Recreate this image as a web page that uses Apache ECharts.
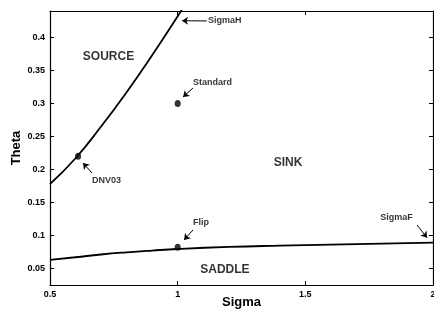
<!DOCTYPE html>
<html>
<head>
<meta charset="utf-8">
<script src="https://cdn.jsdelivr.net/npm/echarts@6/dist/echarts.min.js"></script>
<style>
  html, body { margin: 0; padding: 0; background: #fff; }
  #main { width: 434px; height: 314px; }
</style>
</head>
<body>
<div id="main"></div>
<script>
// boundary curves: [sigma, theta]
var sigmaHCurve = [[0.5, 0.178], [0.6, 0.217], [0.7, 0.265], [0.8, 0.317], [0.9, 0.373],
  [1.0, 0.432], [1.05, 0.463]];
var sigmaFCurve = [[0.5, 0.063], [0.6, 0.067], [0.7, 0.0712], [0.8, 0.0745], [0.9, 0.0772],
  [1.0, 0.0795], [1.2, 0.0826], [1.4, 0.0846], [1.6, 0.0862], [1.8, 0.0878], [2.0, 0.0893]];

// parameter points
var pointNames = ['Standard', 'DNV03', 'Flip'];
var pointValues = [[1.0, 0.30], [0.61, 0.22], [1.0, 0.082]];

// annotation labels (left edge of text) and arrows tail -> head
var noteNames = ['SigmaH', 'Standard', 'DNV03', 'Flip', 'SigmaF'];
var notePos = [[1.119, 0.425], [1.060, 0.331], [0.6645, 0.184], [1.060, 0.1189], [1.793, 0.1265]];
var arrowTails = [[1.114, 0.4249], [1.060, 0.3234], [0.6645, 0.1946], [1.060, 0.1083], [1.9375, 0.1159]];
var arrowHeads = [[1.017, 0.4253], [1.021, 0.3097], [0.6293, 0.2098], [1.025, 0.0932], [1.9766, 0.0966]];

// region names (centre of text)
var regionNames = ['SOURCE', 'SINK', 'SADDLE'];
var regionPos = [[0.729, 0.3703], [1.432, 0.2098], [1.185, 0.0477]];

var xTicks = [0.5, 1, 1.5, 2];
var yTicks = [0.05, 0.1, 0.15, 0.2, 0.25, 0.3, 0.35, 0.4];

var chart = echarts.init(document.getElementById('main'));

var axisCommon = {
  axisLine: { show: true, lineStyle: { color: '#000', width: 1.2 } },
  axisTick: { show: true, inside: true, length: 4, lineStyle: { color: '#000' } },
  splitLine: { show: false }
};

var arrowData = arrowTails.map(function (t, i) {
  return [{ coord: t }, { coord: arrowHeads[i] }];
});

chart.setOption({
  animation: false,
  backgroundColor: '#fff',
  textStyle: { fontFamily: 'Liberation Sans', color: '#000' },
  grid: { left: 50, right: 1, top: 11, bottom: 29, outerBoundsMode: 'none', containLabel: false },
  xAxis: [
    Object.assign({}, axisCommon, {
      type: 'value', min: 0.5, max: 2, interval: 0.5, position: 'bottom',
      name: 'Sigma', nameLocation: 'middle', nameGap: 11, nameMoveOverlap: false,
      nameTextStyle: { fontSize: 13, fontWeight: 'bold', color: '#000' },
      axisLabel: { fontSize: 9, fontWeight: 'bold', color: '#000', margin: 5,
        customValues: xTicks, formatter: function (v) { return String(v); } },
      axisTick: { show: true, inside: true, length: 4, lineStyle: { color: '#000' }, customValues: xTicks }
    }),
    Object.assign({}, axisCommon, {
      type: 'value', min: 0.5, max: 2, interval: 0.5, position: 'top',
      axisLabel: { show: false }
    })
  ],
  yAxis: [
    Object.assign({}, axisCommon, {
      type: 'value', min: 0.025, max: 0.44, position: 'left',
      name: 'Theta', nameLocation: 'middle', nameGap: 27, nameRotate: 90, nameMoveOverlap: false,
      nameTextStyle: { fontSize: 13, fontWeight: 'bold', color: '#000' },
      axisLabel: { fontSize: 9, fontWeight: 'bold', color: '#000', margin: 5,
        customValues: yTicks, formatter: function (v) { return String(v); } },
      axisTick: { show: true, inside: true, length: 4, lineStyle: { color: '#000' }, customValues: yTicks }
    }),
    Object.assign({}, axisCommon, {
      type: 'value', min: 0.025, max: 0.44, position: 'right',
      axisLabel: { show: false },
      axisTick: { show: true, inside: true, length: 4, lineStyle: { color: '#000' }, customValues: yTicks }
    })
  ],
  series: [
    {
      name: 'SigmaH', type: 'line', data: sigmaHCurve, smooth: true, showSymbol: false,
      lineStyle: { color: '#000', width: 1.8 }, silent: true
    },
    {
      name: 'SigmaF', type: 'line', data: sigmaFCurve, smooth: true, showSymbol: false,
      lineStyle: { color: '#000', width: 1.8 }, silent: true,
      markLine: {
        silent: true, symbol: ['none', 'arrow'], symbolSize: 6,
        label: { show: false },
        lineStyle: { color: '#000', width: 1, type: 'solid' },
        data: arrowData
      }
    },
    {
      name: 'points', type: 'scatter', symbol: 'circle', symbolSize: [6, 7],
      itemStyle: { color: '#000' },
      data: pointValues.map(function (v, i) { return { name: pointNames[i], value: v }; })
    },
    {
      name: 'notes', type: 'scatter', symbolSize: 0, silent: true,
      label: { show: true, position: 'right', distance: 0, formatter: '{b}',
        fontSize: 9, fontWeight: 'bold', color: '#000', fontFamily: 'Liberation Sans' },
      data: notePos.map(function (v, i) { return { name: noteNames[i], value: v }; })
    },
    {
      name: 'regions', type: 'scatter', symbolSize: 0, silent: true,
      label: { show: true, position: 'inside', formatter: '{b}',
        fontSize: 12, fontWeight: 'bold', color: '#000', fontFamily: 'Liberation Sans' },
      data: regionPos.map(function (v, i) { return { name: regionNames[i], value: v }; })
    }
  ]
});
</script>
</body>
</html>
